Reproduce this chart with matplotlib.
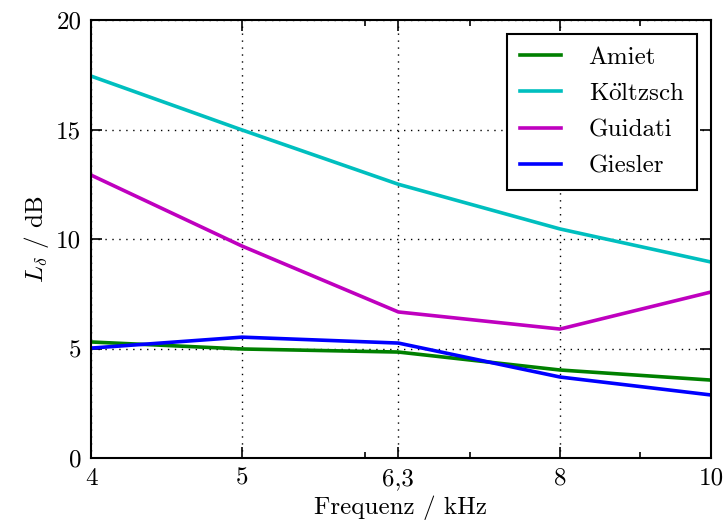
import matplotlib
matplotlib.use('Agg')
import matplotlib.pyplot as plt
from matplotlib.ticker import FixedLocator, FixedFormatter, NullFormatter

plt.rcParams['font.family'] = 'cmr10'
plt.rcParams['mathtext.fontset'] = 'cm'
plt.rcParams['axes.unicode_minus'] = False

freq = [4, 5, 6.3, 8, 10]
freq_labels = ['4', '5', '6,3', '8', '10']
amiet = [5.3, 4.98, 4.84, 4.02, 3.56]
koeltzsch = [17.44, 14.98, 12.5, 10.46, 8.95]
guidati = [12.92, 9.68, 6.67, 5.89, 7.58]
giesler = [5.02, 5.52, 5.25, 3.7, 2.88]

series = [
    ('Amiet', amiet, (0, 0.5, 0)),
    (r'K$\ddot{\mathrm{o}}$ltzsch', koeltzsch, (0, 0.75, 0.75)),
    ('Guidati', guidati, (0.75, 0, 0.75)),
    ('Giesler', giesler, (0, 0, 1)),
]

fig = plt.figure(figsize=(7.24, 5.32), dpi=100)
ax = fig.add_axes([0.1257, 0.139, 0.8563, 0.8234])

for name, vals, col in series:
    ax.plot(freq, vals, color=col, linewidth=2.6, label=name)

ax.set_xscale('log')
ax.set_xlim(4, 10)
ax.set_ylim(0, 20)
ax.xaxis.set_major_locator(FixedLocator(freq))
ax.xaxis.set_major_formatter(FixedFormatter(freq_labels))
ax.xaxis.set_minor_locator(FixedLocator([6, 7, 9]))
ax.xaxis.set_minor_formatter(NullFormatter())
ax.set_yticks([0, 5, 10, 15, 20])

ax.tick_params(which='both', direction='in', top=True, right=True, labelsize=18, width=1.2)
ax.tick_params(which='major', length=8, pad=7)
ax.tick_params(which='minor', length=4)
for sp in ax.spines.values():
    sp.set_linewidth(1.5)

ax.grid(True, which='major', color='black', linestyle=(0, (1, 4)), linewidth=1)

ax.set_xlabel('Frequenz / kHz', fontsize=18, labelpad=4)
ax.set_ylabel(r'$L_\delta$ / dB', fontsize=18)

leg = ax.legend(loc='upper right', fontsize=18, fancybox=False, framealpha=1,
                edgecolor='black', handlelength=1.65, borderpad=0.5, labelspacing=0.55,
                handletextpad=1.1, borderaxespad=0.55)
leg.get_frame().set_linewidth(1.5)

fig.savefig('out.png', dpi=100)
